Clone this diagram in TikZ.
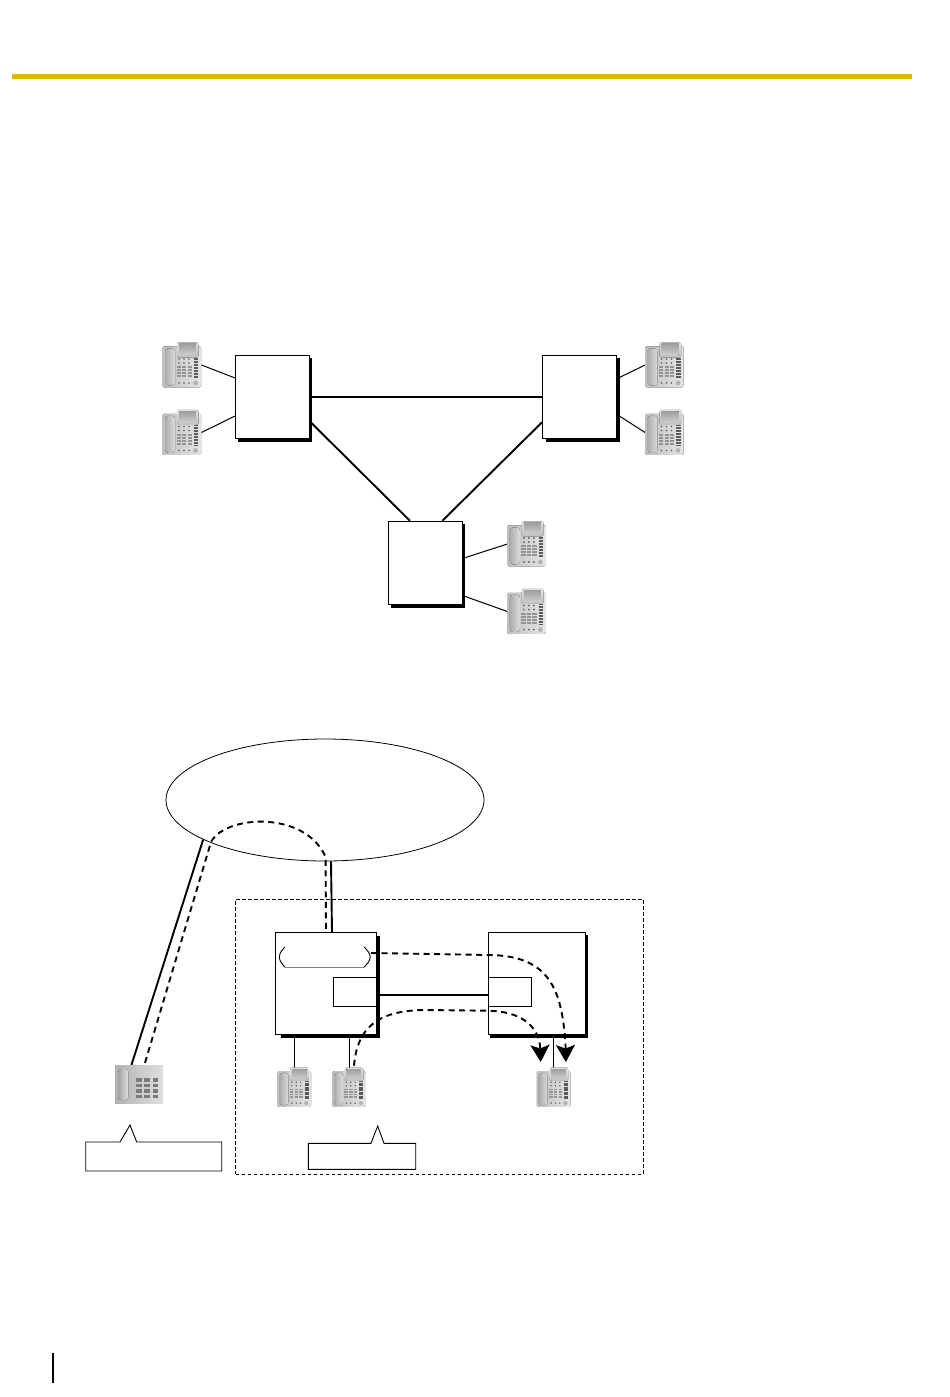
\documentclass[tikz,border=0pt]{standalone}
\usepackage{amsmath}
\usetikzlibrary{backgrounds,calc,shapes.geometric,shadows,arrows.meta}
\definecolor{rulegold}{HTML}{E0B800}
\definecolor{phonedark}{HTML}{5A5A5A}

% name, centre, scale
\newcommand{\deskphone}[3]{
  \node[phone,minimum width=38.5pt*#3,minimum height=45pt*#3] (#1) at (#2) {};
  \begin{scope}[shift={(#1.north west)},scale=#3]
    \fill[left color=gray!50,right color=gray!20,rounded corners=1.5pt] (0,4) rectangle (38.5,45);
    \fill[top color=gray!22,bottom color=gray!50,rounded corners=1.5pt] (14.5,0) rectangle (36,15);
    \fill[top color=gray!75,bottom color=gray!40] (16.5,1.5) rectangle (33.5,12.5);
    \fill[left color=gray!65,right color=gray!28,rounded corners=3pt] (2.5,6) rectangle (12.5,43);
    \foreach \dotx in {16.5,21.5,26.5} {
      \foreach \doty in {16.7,20.7,40.7}
        \fill[phonedark] (\dotx,\doty) circle (0.9);
    }
    \foreach \keyx in {14,19.5,25} {
      \foreach \keyy in {24,27,30,33}
        \fill[phonedark!65] (\keyx,\keyy) rectangle +(4.2,1.8);
    }
    \foreach \stripey in {16,17.5,...,35.5}
      \draw[phonedark,line width=0.7pt] (31.3,\stripey) -- (35.8,\stripey);
    \fill[gray!60] (33,40.7) circle (2.4);
  \end{scope}
}

\begin{document}
\begin{tikzpicture}[x=1pt,y=-1pt]
    % `cabinet' is used for the three boxes with a solid shadow.
    % `plainbox' is used for the two lower boxes and the ports.
    % `flow' is used for the dashed call paths.
    \tikzstyle{phone} = [inner sep=0pt]
    \tikzstyle{cabinet} = [draw,fill=white,line width=1pt,minimum width=74pt,minimum height=83.5pt,
      drop shadow={shadow xshift=3pt,shadow yshift=-3pt,fill=black,opacity=1}]
    \tikzstyle{plainbox} = [draw,fill=white,line width=0.9pt,inner sep=0pt]
    \tikzstyle{trunk} = [line width=1.9pt]
    \tikzstyle{extn} = [line width=1pt]
    \tikzstyle{flow} = [line width=1.9pt,dash pattern=on 6pt off 4.5pt]
    \tikzstyle{flowtip} = [-{Stealth[length=17pt,width=19pt,inset=3.5pt]}]
    \tikzstyle{tag} = [line width=0.9pt]
    \useasboundingbox (0,0) rectangle (950,1397);
    %
    \fill[rulegold] (12,74) rectangle (912,79);
    \fill[black] (52.3,1353) rectangle (53.8,1383);
    %
    % Upper network.
    \node[cabinet] (boxa) at (272.3,397) {};
    \node[cabinet] (boxb) at (579.5,397) {};
    \node[cabinet] (boxc) at (425.3,563) {};
    \deskphone{phonea}{182,365}{1}
    \deskphone{phoneb}{182,432.5}{1}
    \deskphone{phonec}{664.5,365}{1}
    \deskphone{phoned}{664.5,432.5}{1}
    \deskphone{phonee}{526.8,544}{1}
    \deskphone{phonef}{526.8,611.5}{1}
    %
    % Lower network.
    \node[draw,shape=ellipse,line width=0.8pt,inner sep=0pt,minimum width=318pt,minimum height=122pt] (cloud) at (325,800) {};
    \node[draw,line width=0.8pt,dash pattern=on 3.5pt off 2.5pt,inner sep=0pt,minimum width=407.5pt,minimum height=275pt] (site) at (439.3,1036.5) {};
    \node[plainbox,minimum width=101.4pt,minimum height=101.6pt] (boxd) at (326,983.5) {};
    \node[plainbox,minimum width=97pt,minimum height=101.6pt] (boxe) at (537.2,983.5) {};
    \fill ($(boxd.north east)+(0,3.5)$) rectangle ($(boxd.south east)+(2.6,2.8)$);
    \fill ($(boxd.south west)+(6.5,0)$) rectangle ($(boxd.south east)+(2.6,2.8)$);
    \fill ($(boxe.north east)+(0,3)$) rectangle ($(boxe.south east)+(2,2.8)$);
    \fill ($(boxe.south west)+(1.5,0)$) rectangle ($(boxe.south east)+(2,2.8)$);
    \node[plainbox,minimum width=43.4pt,minimum height=29pt] (portd) at (355,991.8) {};
    \node[plainbox,minimum width=43pt,minimum height=29pt] (porte) at (510.2,991.8) {};
    \node[phone,minimum width=92pt,minimum height=21pt] (pill) at (325,957) {};
    \draw[line width=0.9pt,rounded corners=3pt] ($(pill.north west)+(6,0.5)$) -- ($(pill.west)+(0.5,-3)$) -- ($(pill.west)+(0.5,3)$) -- ($(pill.south west)+(6,-0.5)$);
    \draw[line width=0.9pt,rounded corners=3pt] ($(pill.north east)+(-7,0.5)$) -- ($(pill.east)+(-1,-3)$) -- ($(pill.east)+(-1,3)$) -- ($(pill.south east)+(-7,-0.5)$);
    \draw[gray,line width=1.2pt] ($(pill.south west)+(6,-0.5)$) -- ($(pill.south east)+(-7,-0.5)$);
    \deskphone{phoneg}{294.5,1087.5}{0.87}
    \deskphone{phoneh}{349,1087.5}{0.87}
    \deskphone{phonei}{553.7,1087.5}{0.87}
    %
    % Phone reached over the public network.
    \node[phone,left color=gray!60,right color=gray!25,minimum width=48pt,minimum height=38pt] (remote) at (139,1084) {};
    \fill[left color=gray!70,right color=gray!25,rounded corners=3pt] (118.3,1069) rectangle (128.3,1100);
    \foreach \keyx in {136,144.4,152.8} {
      \foreach \keyy in {1078.3,1084,1089.4,1095}
        \fill[phonedark!80] (\keyx,\keyy) rectangle +(5.6,3.4);
    }
    %
    \draw[tag] (85.7,1142) -- (120,1142) -- (130,1125) -- (136.7,1142) -- (221.7,1142) -- (221.7,1171) -- (85.7,1171) -- cycle;
    \draw[tag] (308.3,1143.3) -- (371,1143.3) -- (377.7,1126) -- (384,1143.3) -- (415.7,1143.3) -- (415.7,1169.3) -- (308.3,1169.3) -- cycle;
    %
    \coordinate (tipe) at (540.7,1062);
    \coordinate (tipd) at (565.9,1062);
    %
    % Draw dashed call paths.
    \draw[flow] ($(remote.north)+(6,-2)$) -- (211,842) .. controls (225,815) and (305,810) .. (325.6,857) -- (boxd.north);
    \draw[flow,flowtip] ($(pill.east)+(0,-4)$) -- (490,955) .. controls (550,956) and (562,990) .. (565.5,1045) -- (tipd);
    \draw[flow,flowtip] ($(phoneh.north)+(5,-2)$) .. controls (357,1030) and (375,1010) .. (426,1010) -- (487,1010.7) .. controls (520,1011) and (537,1025) .. (540,1045) -- (tipe);
    %
  \begin{pgfonlayer}{background}
        % Draw lines.
        \draw[extn] (phonea.east) -- (boxa.153)   (phoneb.east) -- (boxa.207);
        \draw[extn] (phonec.west) -- (boxb.26)    (phoned.west) -- (boxb.335);
        \draw[extn] (phonee.west) -- (boxc.7)     (phonef.west) -- (boxc.319);
        \draw[trunk] (boxa.east) -- (boxb.west)   (boxa.327) -- (boxc.110)   (boxc.68) -- (boxb.214);
        \draw[trunk] ($(remote.north)+(-7.5,0)$) -- (cloud.198);
        \draw[trunk] ($(boxd.north)+(6,0)$) -- ($(cloud.south)+(6,0)$);
        \draw[trunk] ($(portd.east)+(0,3.2)$) -- ($(porte.west)+(0,3.2)$);
        \draw[extn] (phoneg.north) -- (phoneg.north |- boxd.south);
        \draw[extn] (phoneh.north) -- (phoneh.north |- boxd.south);
        \draw[extn] (phonei.north) -- (phonei.north |- boxe.south);
    \end{pgfonlayer}
\end{tikzpicture}
\end{document}
